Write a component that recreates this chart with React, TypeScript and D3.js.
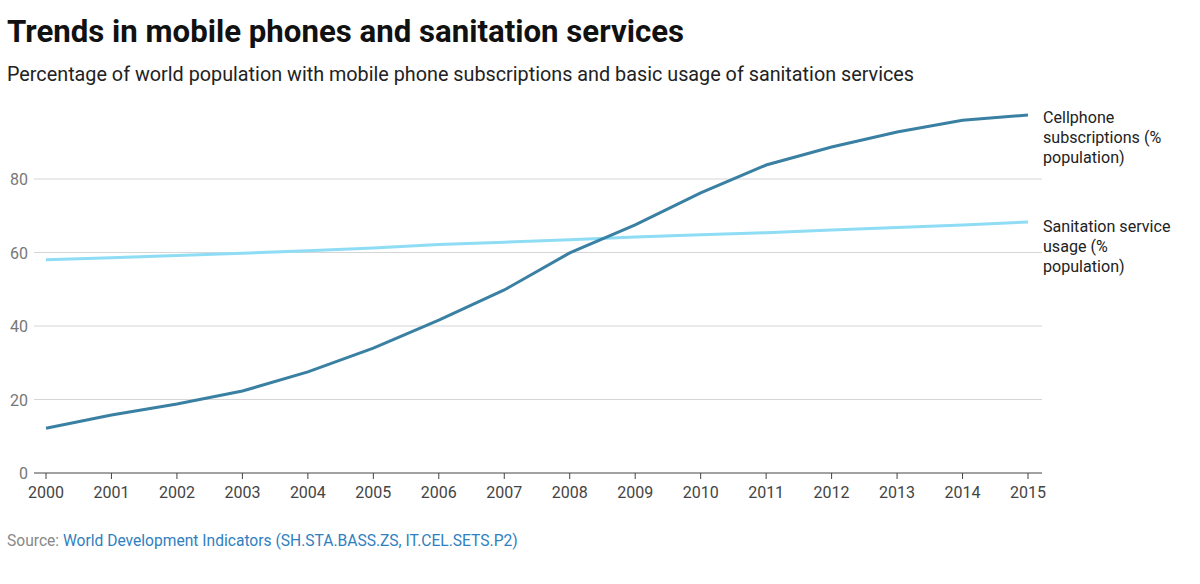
import React from 'react';
import * as d3 from 'd3';

const years = [2000, 2001, 2002, 2003, 2004, 2005, 2006, 2007, 2008, 2009, 2010, 2011, 2012, 2013, 2014, 2015];
const cellphone = [12.2, 15.8, 18.8, 22.3, 27.5, 34.0, 41.6, 49.8, 59.9, 67.5, 76.2, 83.8, 88.7, 92.8, 96.0, 97.4];
const sanitation = [58.0, 58.6, 59.2, 59.8, 60.5, 61.2, 62.2, 62.8, 63.5, 64.2, 64.8, 65.4, 66.1, 66.8, 67.5, 68.3];
const yTicks = [0, 20, 40, 60, 80];

const W = 1200, H = 584;
const font = 'Roboto, "Noto Sans", sans-serif';

export default function App() {
  const x = d3.scaleLinear().domain([2000, 2015]).range([46, 1028]);
  const y = d3.scaleLinear().domain([0, 80]).range([473, 179]);
  const line = d3.line<number>().x((_, i) => x(years[i])).y(d => y(d));

  const labels = (lines: string[], yTop: number) =>
    lines.map((t, i) => (
      <text key={t} x={1043} y={yTop + i * 20} fontSize={16.1} fill="#222">{t}</text>
    ));

  return (
    <svg width={W} height={H} style={{ display: 'block', position: 'absolute', left: 0, top: 0 }} fontFamily={font}>
      <rect width={W} height={H} fill="#fff" />
      <text x={7} y={42} fontSize={31.2} fontWeight={700} fill="#111">Trends in mobile phones and sanitation services</text>
      <text x={7} y={81} fontSize={19.8} fill="#222">Percentage of world population with mobile phone subscriptions and basic usage of sanitation services</text>
      {yTicks.map(t => (
        <g key={t}>
          <line x1={34} x2={1042} y1={y(t)} y2={y(t)} stroke={t === 0 ? '#444' : '#d6d6d6'} strokeWidth={1} />
          <text x={28} y={y(t) + 6} fontSize={16} fill="#777" textAnchor="end">{t}</text>
        </g>
      ))}
      {years.map(yr => (
        <g key={yr}>
          <line x1={x(yr)} x2={x(yr)} y1={473} y2={479} stroke="#444" />
          <text x={x(yr)} y={498} fontSize={16} fill="#444" textAnchor="middle">{yr}</text>
        </g>
      ))}
      <path d={line(sanitation) || ''} fill="none" stroke="#8fdcf5" strokeWidth={3} />
      <path d={line(cellphone) || ''} fill="none" stroke="#3a80a3" strokeWidth={3} />
      {labels(['Cellphone', 'subscriptions (%', 'population)'], 123)}
      {labels(['Sanitation service', 'usage (%', 'population)'], 232)}
      <text x={7} y={546} fontSize={15.6}>
        <tspan fill="#888">Source: </tspan>
        <tspan fill="#2f80c0">World Development Indicators (SH.STA.BASS.ZS, IT.CEL.SETS.P2)</tspan>
      </text>
    </svg>
  );
}
